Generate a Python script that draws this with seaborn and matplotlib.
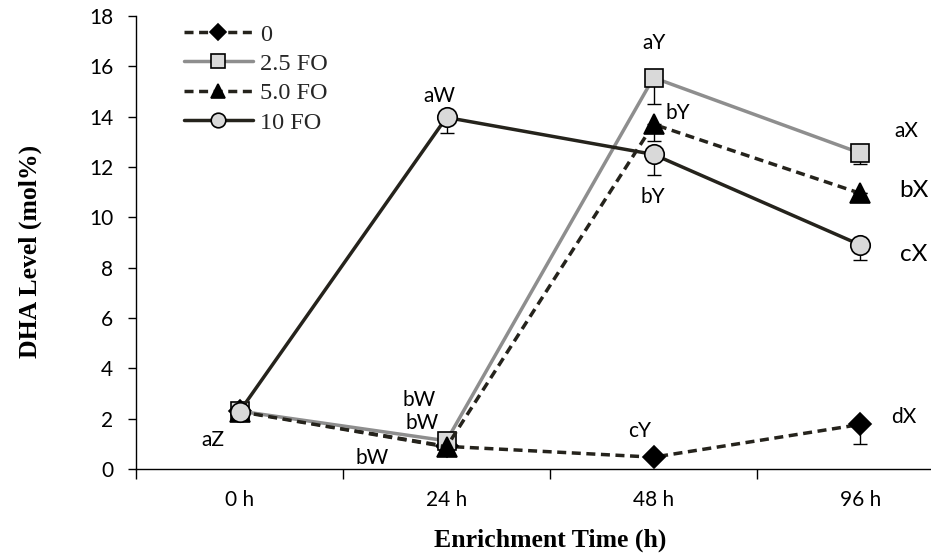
import numpy as np
import pandas as pd
import matplotlib
matplotlib.use("Agg")
import matplotlib.pyplot as plt
import seaborn as sns

# ---------------- data ----------------
times = ["0 h", "24 h", "48 h", "96 h"]
series_names = ["0", "2.5 FO", "5.0 FO", "10 FO"]
dha_0 = [2.30, 0.90, 0.47, 1.77]
dha_25 = [2.30, 1.12, 15.55, 12.55]
dha_50 = [2.28, 0.88, 13.70, 10.95]
dha_10 = [2.28, 13.97, 12.50, 8.90]
err_0 = [0.0, 0.0, 0.0, 0.78]
err_25 = [0.0, 0.0, 1.03, 0.42]
err_50 = [0.0, 0.0, 0.66, 0.0]
err_10 = [0.0, 0.63, 0.80, 0.60]

ann_text = ["aZ", "bW", "bW", "bW", "aW", "aY", "bY", "bY", "cY", "aX", "bX", "cX", "dX"]
ann_x = [-0.13, 0.87, 0.88, 0.64, 0.966, 2.005, 2.116, 1.995, 1.932, 3.222, 3.256, 3.256, 3.208]
ann_y = [1.15, 2.74, 1.82, 0.44, 14.83, 16.93, 14.16, 10.79, 1.51, 13.44, 11.06, 8.52, 2.06]
ann_big = [False, False, False, False, False, False, False, False, False, False, True, True, False]

# ---------------- style ----------------
sns.set_theme(style="white")
plt.rcParams["font.family"] = ["Lato", "DejaVu Sans"]

DARK = "#25231c"
GRAY = "#8e8e8e"
FACE = "#d9d9d9"

fig = plt.figure(figsize=(9.31, 5.53), dpi=100)
ax = fig.add_axes([136 / 931, (553 - 469) / 553, 828 / 931, (469 - 16) / 553])

values = [dha_0, dha_25, dha_50, dha_10]
errors = [err_0, err_25, err_50, err_10]
styles = [
    dict(color=DARK, marker="D", markersize=11.5, markerfacecolor="black",
         markeredgecolor="black", ls=(0, (2.6, 1.6))),
    dict(color=GRAY, marker="s", markersize=13.5, markerfacecolor=FACE,
         markeredgecolor="black", ls="-"),
    dict(color=DARK, marker="^", markersize=14, markerfacecolor="black",
         markeredgecolor="black", ls=(0, (2.6, 1.6))),
    dict(color=DARK, marker="o", markersize=14, markerfacecolor=FACE,
         markeredgecolor="black", ls="-"),
]

pos = np.arange(len(times))
for name, vals, errs, st in zip(series_names, values, errors, styles):
    df = pd.DataFrame({"time": times, "dha": vals})
    sns.lineplot(data=df, x="time", y="dha", ax=ax, label=name, errorbar=None,
                 sort=False, linewidth=2.5, markeredgewidth=1.2, clip_on=False,
                 zorder=3, **st)
    errs = np.asarray(errs)
    ax.errorbar(pos, vals, yerr=[errs, np.zeros_like(errs)], fmt="none",
                ecolor="black", elinewidth=1.0, capsize=5, capthick=1.0, zorder=2)

for t, x, y, big in zip(ann_text, ann_x, ann_y, ann_big):
    ax.text(x, y, t, ha="center", va="center", fontsize=17.5 if big else 15,
            color="black", family=["Lato", "DejaVu Sans"])

ax.set_xlim(-0.5, 3.5)
ax.set_ylim(0, 18)
ax.set_yticks(np.arange(0, 19, 2))
ax.set_xticks([-0.5, 0.5, 1.5, 2.5, 3.5])
ax.set_xticklabels([])
ax.set_xticks(pos, minor=True)
ax.set_xticklabels(times, minor=True)
ax.tick_params(axis="x", which="major", direction="out", length=7, width=1.0,
               color="black", bottom=True)
ax.tick_params(axis="x", which="minor", length=0, pad=15, labelsize=15,
               labelcolor="black", bottom=True)
ax.tick_params(axis="y", direction="out", length=5.5, width=1.0, color="black",
               pad=11, labelsize=15, labelcolor="black", left=True)

for s in ["top", "right"]:
    ax.spines[s].set_visible(False)
for s in ["left", "bottom"]:
    ax.spines[s].set_color("black")
    ax.spines[s].set_linewidth(1.0)

ax.set_xlabel("Enrichment Time (h)", fontsize=18.5, fontweight="bold",
              family=["Liberation Serif", "DejaVu Serif"], color="black")
ax.set_ylabel("DHA Level (mol%)", fontsize=18.5, fontweight="bold",
              family=["Liberation Serif", "DejaVu Serif"], color="black")
ax.xaxis.set_label_coords(0.5, -0.132)
ax.yaxis.set_label_coords(-0.1135, 0.48)

leg = ax.legend(loc="upper left", bbox_to_anchor=(0.043, 1.01), frameon=False,
                prop={"family": ["Liberation Serif", "DejaVu Serif"], "size": 17.5},
                handlelength=2.85, handletextpad=0.3, labelspacing=0.3,
                borderpad=0.0, markerscale=0.75)

fig.savefig("out.png", dpi=100)
